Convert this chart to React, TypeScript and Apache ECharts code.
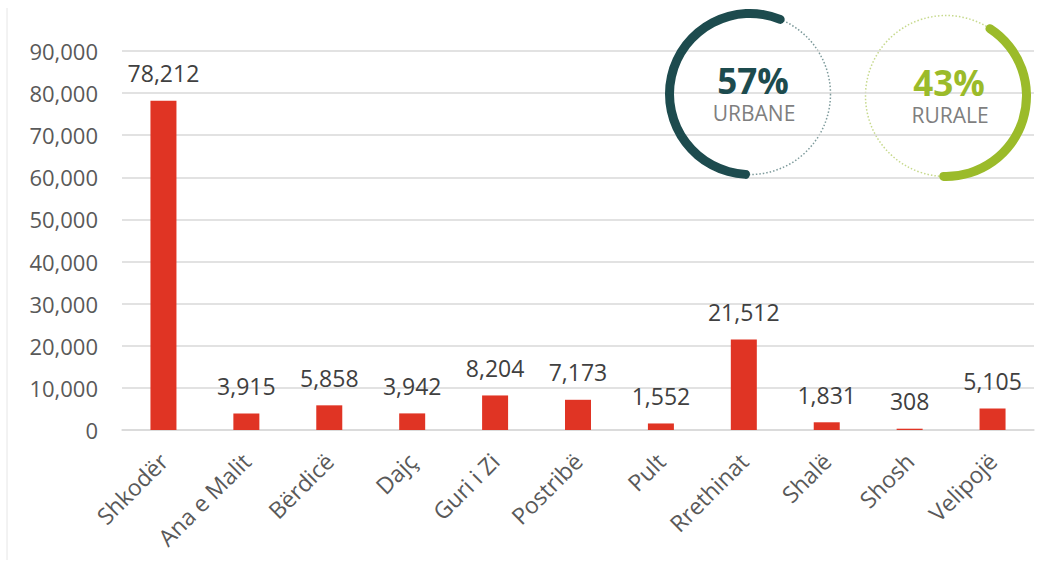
import React, { useEffect, useRef } from "react";
import * as echarts from "echarts";

const categories = ["Shkodër", "Ana e Malit", "Bërdicë", "Dajç", "Guri i Zi", "Postribë", "Pult", "Rrethinat", "Shalë", "Shosh", "Velipojë"];
const population = [78212, 3915, 5858, 3942, 8204, 7173, 1552, 21512, 1831, 308, 5105];
const yTicks = { min: 0, max: 90000, interval: 10000 };
const shareNames = ["URBANE", "RURALE"];
const sharePct = [57, 43];

const FONT = "'Open Sans', sans-serif";
const fmt = (v: number) => v.toLocaleString("en-US");

export default function App() {
  const ref = useRef<HTMLDivElement>(null);
  useEffect(() => {
    if (!ref.current) return;
    const chart = echarts.init(ref.current, null, { renderer: "svg" });
    const donuts = [
      { center: [750, 94], color: "#1d4b4e", dot: "#7d9a9b", start: -90, pct: sharePct[0], name: shareNames[0] },
      { center: [946, 96], color: "#9bbb2a", dot: "#c6d98c", start: 60, pct: sharePct[1], name: shareNames[1] },
    ];
    const pieSeries = donuts.map((d) => ({
      type: "pie",
      center: d.center,
      radius: [76, 85],
      startAngle: d.start,
      clockwise: true,
      silent: true,
      z: 5,
      label: { show: false },
      labelLine: { show: false },
      data: [
        {
          value: d.pct,
          itemStyle: { color: d.color, borderRadius: 5 },
          label: {
            show: true,
            position: "center",
            formatter: `{p|${d.pct}%}\n{n|${d.name}}`,
            rich: {
              p: { fontFamily: FONT, fontSize: 35, fontWeight: "bold", color: d.color, lineHeight: 38, padding: [4, 0, 0, 6] },
              n: { fontFamily: FONT, fontSize: 21, color: "#7f7f7f", lineHeight: 32, padding: [0, 0, 0, 8] },
            },
          },
        },
        { value: 100 - d.pct, itemStyle: { color: "transparent" }, label: { show: false } },
      ],
    }));
    chart.setOption({
      animation: false,
      backgroundColor: "#ffffff",
      grid: { left: 122, right: 5, top: 51, bottom: 132, containLabel: false },
      xAxis: {
        type: "category",
        data: categories,
        axisLine: { show: true, lineStyle: { color: "#d9d9d9", width: 1.5 } },
        axisTick: { show: false },
        axisLabel: { rotate: 45, margin: 27, fontFamily: FONT, fontSize: 23, color: "#595959", interval: 0 },
      },
      yAxis: {
        type: "value",
        min: yTicks.min,
        max: yTicks.max,
        interval: yTicks.interval,
        axisLine: { show: false },
        axisTick: { show: false },
        splitLine: { lineStyle: { color: "#d9d9d9", width: 1.5 } },
        axisLabel: { margin: 24, fontFamily: FONT, fontSize: 22, color: "#595959", formatter: (v: number) => fmt(v) },
      },
      graphic: [
        { type: "line", z: 0, shape: { x1: 7, y1: 8, x2: 7, y2: 560 }, style: { stroke: "#e6e6e6", lineWidth: 1 } },
        ...donuts.map((d) => ({
          type: "circle",
          z: 0,
          shape: { cx: d.center[0], cy: d.center[1], r: 80.5 },
          style: { fill: "none", stroke: d.dot, lineWidth: 1.5, lineDash: [1.5, 2] },
        })),
      ],
      series: [
        {
          type: "bar",
          data: population,
          barWidth: 26,
          itemStyle: { color: "#e03424" },
          label: {
            show: true,
            position: "top",
            distance: 16,
            fontFamily: FONT,
            fontSize: 23,
            color: "#404040",
            formatter: (p: any) => fmt(p.value),
          },
        },
        ...pieSeries,
      ],
    });
    return () => chart.dispose();
  }, []);
  return <div ref={ref} style={{ width: 1039, height: 562, position: "absolute", left: 0, top: 0 }} />;
}
